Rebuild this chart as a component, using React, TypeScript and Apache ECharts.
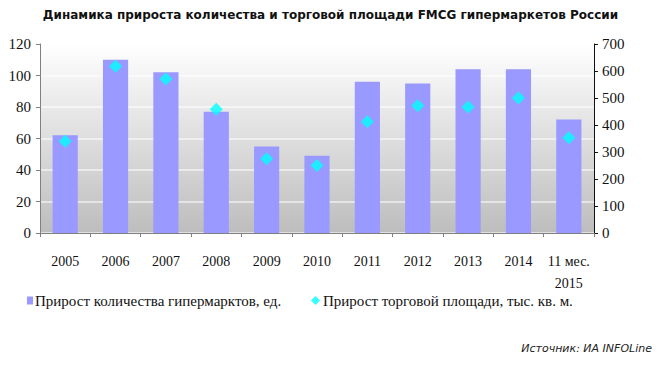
import React, { useEffect, useRef } from "react";
import * as echarts from "echarts";

const categories = ["2005", "2006", "2007", "2008", "2009", "2010", "2011", "2012", "2013", "2014", "11 мес.\n2015"];
const countGrowth = [62, 110, 102, 77, 55, 49, 96, 95, 104, 104, 72];
const areaGrowth = [340, 618, 570, 458, 275, 250, 412, 471, 467, 500, 353];
const leftTicks = { min: 0, max: 120, interval: 20 };
const rightTicks = { min: 0, max: 700, interval: 100 };
const titleText = "Динамика прироста количества и торговой площади FMCG гипермаркетов России";
const seriesNames = ["Прирост количества гипермарктов, ед.", "Прирост торговой площади, тыс. кв. м."];
const sourceText = "Источник: ИА INFOLine";

export default function App() {
  const ref = useRef<HTMLDivElement>(null);
  useEffect(() => {
    if (!ref.current) return;
    const chart = echarts.init(ref.current, undefined, { renderer: "svg" });
    const serif = "Liberation Serif";
    chart.setOption({
      animation: false,
      backgroundColor: "#ffffff",
      title: {
        text: titleText,
        left: "center",
        top: 4,
        textStyle: { fontFamily: "DejaVu Sans", fontSize: 12, fontWeight: "bold", color: "#111" },
      },
      grid: {
        left: 40,
        right: 67,
        top: 44,
        bottom: 133,
        show: true,
        borderWidth: 0,
        backgroundColor: new echarts.graphic.LinearGradient(0, 0, 0, 1, [
          { offset: 0, color: "#ffffff" },
          { offset: 1, color: "#bdbdbd" },
        ]),
      },
      legend: [
        {
          data: [seriesNames[0]],
          left: 22,
          top: 288,
          icon: "rect",
          itemWidth: 6,
          itemHeight: 8,
          itemGap: 4,
          textStyle: { fontFamily: serif, fontSize: 15, color: "#111", padding: [0, 0, 0, -3] },
        },
        {
          data: [seriesNames[1]],
          left: 306,
          top: 288,
          icon: "diamond",
          itemWidth: 9,
          itemHeight: 9,
          textStyle: { fontFamily: serif, fontSize: 15, color: "#111", padding: [0, 0, 0, -2] },
        },
      ],
      xAxis: {
        type: "category",
        data: categories,
        boundaryGap: true,
        axisLine: { lineStyle: { color: "#808080", width: 1 } },
        axisTick: { show: true, length: 4, lineStyle: { color: "#808080" } },
        axisLabel: { fontFamily: serif, fontSize: 14, color: "#111", margin: 17, lineHeight: 22, interval: 0 },
      },
      yAxis: [
        {
          type: "value",
          min: leftTicks.min,
          max: leftTicks.max,
          interval: leftTicks.interval,
          axisLine: { show: true, lineStyle: { color: "#808080" } },
          axisTick: { show: true, length: 4, lineStyle: { color: "#808080" } },
          axisLabel: { fontFamily: serif, fontSize: 15, color: "#111", margin: 9 },
          splitLine: { show: true, lineStyle: { color: "rgba(255,255,255,0.7)", width: 1.5 } },
        },
        {
          type: "value",
          position: "right",
          min: rightTicks.min,
          max: rightTicks.max,
          interval: rightTicks.interval,
          axisLine: { show: true, lineStyle: { color: "#111" } },
          axisTick: { show: true, length: 4, lineStyle: { color: "#111" } },
          axisLabel: { fontFamily: serif, fontSize: 15, color: "#111", margin: 8 },
          splitLine: { show: false },
        },
      ],
      series: [
        {
          name: seriesNames[0],
          type: "bar",
          data: countGrowth,
          barWidth: "50%",
          itemStyle: { color: "#9999ff" },
          yAxisIndex: 0,
        },
        {
          name: seriesNames[1],
          type: "scatter",
          data: areaGrowth,
          symbol: "diamond",
          symbolSize: 13,
          itemStyle: { color: "#00ffff" },
          yAxisIndex: 1,
          z: 5,
        },
      ],
      graphic: [
        {
          type: "text",
          right: 9,
          top: 343,
          style: {
            text: sourceText,
            fontFamily: "DejaVu Sans",
            fontSize: 11,
            fontStyle: "italic",
            fill: "#222",
          },
        },
      ],
    });
    return () => chart.dispose();
  }, []);
  return <div ref={ref} style={{ width: 661, height: 366, position: "absolute", left: 0, top: 0 }} />;
}
